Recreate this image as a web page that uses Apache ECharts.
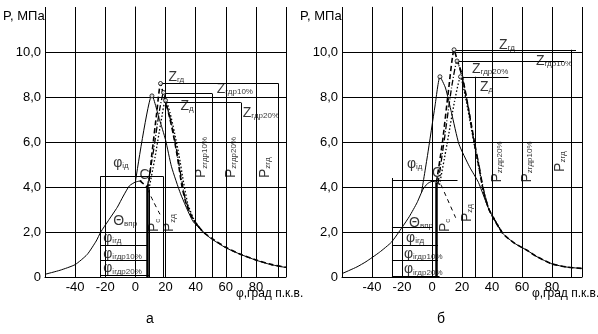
<!DOCTYPE html>
<html><head><meta charset="utf-8">
<script src="https://cdn.jsdelivr.net/npm/echarts@6/dist/echarts.min.js"></script>
<style>html,body{margin:0;padding:0;background:#fff}#c{width:598px;height:334px}</style>
</head><body><div id="c"></div>
<script>
// ---------- axis ----------
const xMin = -60, xMax = 100, xStep = 20;
const yMin = 0, yMax = 12, yStep = 2;

// ---------- chart "а" ----------
const aComp  = [[-60,0.12],[-50,0.3],[-40,0.55],[-32,1.0],[-26,1.6],[-23,2.0],[-18,2.5],[-12,3.1],[-8,3.6],[-4,4.05],[0,4.22],[4,4.28]];
const aD     = [[0,4.22],[11,8.1],[16,7.0],[20,6.1],[24,4.9],[30,3.7],[38,2.5],[45,2.0],[50,1.72],[60,1.3],[70,1.0],[80,0.75],[90,0.55],[100,0.42]];
const aGd    = [[3,4.28],[8,4.0],[11,5.5],[14,7.2],[16.7,8.6],[19,8.0],[22,7.3],[25,6.4],[28,5.3],[31,4.0],[34,3.2],[38,2.6],[45,2.0],[50,1.75],[60,1.32],[70,1.0],[80,0.76],[90,0.56],[100,0.43]];
const aGdr10 = [[8,4.0],[12,5.6],[16,7.4],[18.7,8.2],[21,7.6],[24,6.8],[27,5.8],[30,4.6],[33,3.5],[38,2.6],[45,2.0]];
const aGdr20 = [[9,3.9],[13,5.3],[17,6.9],[20,7.9],[23,7.3],[26,6.4],[29,5.4],[32,4.2],[35,3.2],[40,2.4],[45,2.0]];
const aMot   = [[8,3.9],[12,3.35],[17,2.7]];
const aPeaks = [[11,8.05],[16.7,8.6],[18.7,8.2],[20,7.85]];
const aSegs  = [
  [[-23.3,4.46],[18.7,4.46]],[[-23.3,4.46],[-23.3,0]],[[18.7,4.46],[18.7,0]],
  [[-23.3,1.42],[8,1.42]],[[-23.3,0.75],[8,0.75]],[[-23.3,0.08],[9,0.08]],[[9,3.9],[9,0]],
  [[16.7,8.6],[95,8.6]],[[95,8.6],[95,0]],
  [[18.7,8.15],[51,8.15]],[[51,8.15],[51,0]],
  [[20,7.75],[70,7.75]],[[70,7.75],[70,0]]
];
const aThick = [[[8,4.0],[8,0]]];
const aLabels = [[22,8.93,'Z','гд'],[54,8.4,'Z','гдр10%'],[30,7.64,'Z','д'],[71.3,7.33,'Z','гдр20%'],
  [-14.7,5.1,'φ','ід'],[2.7,4.55,'C',''],[-14.7,2.53,'Θ','впр'],
  [-21.3,1.78,'φ','ігд'],[-21.3,1.07,'φ','ігдр10%'],[-21.3,0.42,'φ','ігдр20%']];
const aVLabels = [[43.3,4.4,'P','zгдр10%'],[62.7,4.4,'P','zгдр20%'],[85.3,4.4,'P','zгд'],[12,2.0,'P','c'],[22,2.0,'P','zд']];

// ---------- chart "б" ----------
const bComp  = [[-60,0.15],[-50,0.45],[-44,0.68],[-35,1.1],[-27,1.55],[-20,2.2],[-15,2.7],[-10,3.3],[-6,3.9],[-3,4.15],[0,4.25],[3,4.22],[5,4.1]];
const bD     = [[-7,3.75],[-3,5.4],[2,7.6],[5.3,8.9],[9,8.4],[13,7.3],[18,5.9],[25,4.9],[31,4.2],[38,3.0],[47,1.95],[55,1.5],[63,1.2],[70,0.9],[80,0.58],[90,0.44],[100,0.38]];
const bGd    = [[3,4.22],[7,6.0],[11,8.3],[14.7,10.1],[17,9.6],[20,9.0],[24,7.6],[28,6.1],[31,5.0],[34,3.9],[38,3.0],[47,1.95],[55,1.5],[63,1.2],[70,0.9],[80,0.58],[90,0.44],[100,0.38]];
const bGdr10 = [[4,4.15],[8,6.0],[13,8.4],[16.7,9.6],[20,8.9],[24,7.6],[28,6.0],[31,5.1],[34,4.0],[38,3.0],[47,1.95]];
const bGdr20 = [[5,4.1],[10,5.9],[15,7.8],[19,8.9],[22,8.1],[26,6.7],[29,5.6],[32,4.6],[35,3.6],[38,3.0],[47,1.95]];
const bMot   = [[6,4.1],[10,3.5],[16,2.6]];
const bPeaks = [[5.3,8.9],[14.7,10.1],[16.7,9.6],[19,8.9]];
const bSegs  = [
  [[-26.7,4.4],[-26.7,0]],[[-26.7,4.3],[17,4.3]],[[-26.7,2.2],[0,2.2]],
  [[-26.7,1.42],[4,1.42]],[[-26.7,0.75],[4,0.75]],[[-26.7,0.05],[5,0.05]],
  [[14.7,10.1],[96,10.1]],[[93,10.1],[93,0]],
  [[16.7,9.6],[88,9.6]],[[19,8.9],[51,8.9]],[[29,8.9],[29,0]]
];
const bThick = [[[3,4.2],[3,0]]];
const bLabels = [[44.7,10.35,'Z','гд'],[69.3,9.64,'Z','гдр10%'],[26.7,9.3,'Z','гдр20%'],[32,8.5,'Z','д'],
  [-16.7,5.07,'φ','ід'],[0,4.67,'C',''],[-15.3,2.44,'Θ','впр'],
  [-17.3,1.78,'φ','ігд'],[-18.7,1.07,'φ','ігдр10%'],[-18.7,0.38,'φ','ігдр20%']];
const bVLabels = [[42.7,4.2,'P','zгдр20%'],[62.7,4.2,'P','zгдр10%'],[84.7,4.67,'P','zгд'],[8,2.0,'P','c'],[22.7,2.44,'P','zд']];

// ---------- build ----------
const FONT = 'Arial, "Liberation Sans", sans-serif';
const rich = {
  m: {fontSize: 14, fontFamily: FONT, color: '#000', lineHeight: 16, verticalAlign: 'bottom'},
  s: {fontSize: 8, fontFamily: FONT, color: '#000', lineHeight: 9, verticalAlign: 'bottom'}
};
function fmtY(v){ return v === 0 ? '0' : v.toFixed(1).replace('.', ','); }

function makeAxes(i){
  return {
    x: {type:'value', gridIndex:i, min:xMin, max:xMax, interval:xStep,
        axisLine:{show:true, onZero:false, lineStyle:{color:'#000', width:1}},
        axisTick:{show:false},
        axisLabel:{color:'#000', fontSize:13, fontFamily:FONT, margin:4,
          formatter: v => (v===xMin||v===xMax) ? '' : String(v)},
        splitLine:{show:true, lineStyle:{color:'#000', width:1}}},
    y: {type:'value', gridIndex:i, min:yMin, max:yMax, interval:yStep,
        axisLine:{show:true, lineStyle:{color:'#000', width:1}},
        axisTick:{show:false},
        axisLabel:{color:'#000', fontSize:13, fontFamily:FONT, margin:4,
          formatter: v => v===yMax ? '' : fmtY(v)},
        splitLine:{show:true, showMaxLine:false, lineStyle:{color:'#000', width:1}}}
  };
}

function curve(i, data, type, width){
  return {type:'line', xAxisIndex:i, yAxisIndex:i, data:data, showSymbol:false, smooth:0.18,
    lineStyle:{color:'#000', width:width, type:type}, silent:true, z:3};
}
function segs(i, arr, width){
  return {type:'lines', coordinateSystem:'cartesian2d', xAxisIndex:i, yAxisIndex:i,
    data: arr.map(c => ({coords:c})), lineStyle:{color:'#000', width:width, opacity:1}, silent:true, z:3};
}
function labels(i, arr, rot){
  return {type:'scatter', xAxisIndex:i, yAxisIndex:i, symbolSize:0, clip:false, silent:true, z:5,
    data: arr.map(d => ({value:[d[0], d[1]], label:{formatter: '{m|' + d[2] + '}' + (d[3] ? '{s|' + d[3] + '}' : '')}})),
    label:{show:true, position:'inside', align:'left', verticalAlign:'middle', rotate:rot, rich:rich}};
}
function peaks(i, arr){
  return {type:'scatter', xAxisIndex:i, yAxisIndex:i, data:arr, symbol:'circle', symbolSize:4,
    itemStyle:{color:'#fff', borderColor:'#000', borderWidth:1}, silent:true, z:6};
}

const ax0 = makeAxes(0), ax1 = makeAxes(1);
function chartSeries(i, comp, d, gd, g10, g20, mot, pk, sg, th, lb, vl){
  return [
    curve(i, comp, 'solid', 1),
    curve(i, d, 'solid', 1),
    curve(i, gd, [5,3], 1.6),
    curve(i, g10, [6,2,1,2], 1.3),
    curve(i, g20, [1.5,2], 1.3),
    curve(i, mot, [4,4], 1),
    segs(i, sg, 1),
    segs(i, th, 2.5),
    peaks(i, pk),
    labels(i, lb, 0),
    labels(i, vl, 90)
  ];
}

const chart = echarts.init(document.getElementById('c'), null, {renderer:'canvas'});
chart.setOption({
  animation:false,
  backgroundColor:'#fff',
  grid:[
    {left:45, right:598-286, top:7, bottom:57},
    {left:342, right:16, top:7, bottom:57}
  ],
  xAxis:[ax0.x, ax1.x],
  yAxis:[ax0.y, ax1.y],
  series: [].concat(
    chartSeries(0, aComp, aD, aGd, aGdr10, aGdr20, aMot, aPeaks, aSegs, aThick, aLabels, aVLabels),
    chartSeries(1, bComp, bD, bGd, bGdr10, bGdr20, bMot, bPeaks, bSegs, bThick, bLabels, bVLabels)
  ),
  graphic:[
    {type:'text', left:3, top:10, style:{text:'P, МПа', fontSize:13, fontFamily:FONT, fill:'#000'}},
    {type:'text', left:300, top:10, style:{text:'P, МПа', fontSize:13, fontFamily:FONT, fill:'#000'}},
    {type:'text', left:236, top:288, style:{text:'φ,град п.к.в.', fontSize:12, fontFamily:FONT, fill:'#000'}},
    {type:'text', left:532, top:288, style:{text:'φ,град п.к.в.', fontSize:12, fontFamily:FONT, fill:'#000'}},
    {type:'text', left:146, top:312, style:{text:'а', fontSize:14, fontFamily:FONT, fill:'#000'}},
    {type:'text', left:437, top:312, style:{text:'б', fontSize:14, fontFamily:FONT, fill:'#000'}}
  ]
});
</script>
</body></html>
